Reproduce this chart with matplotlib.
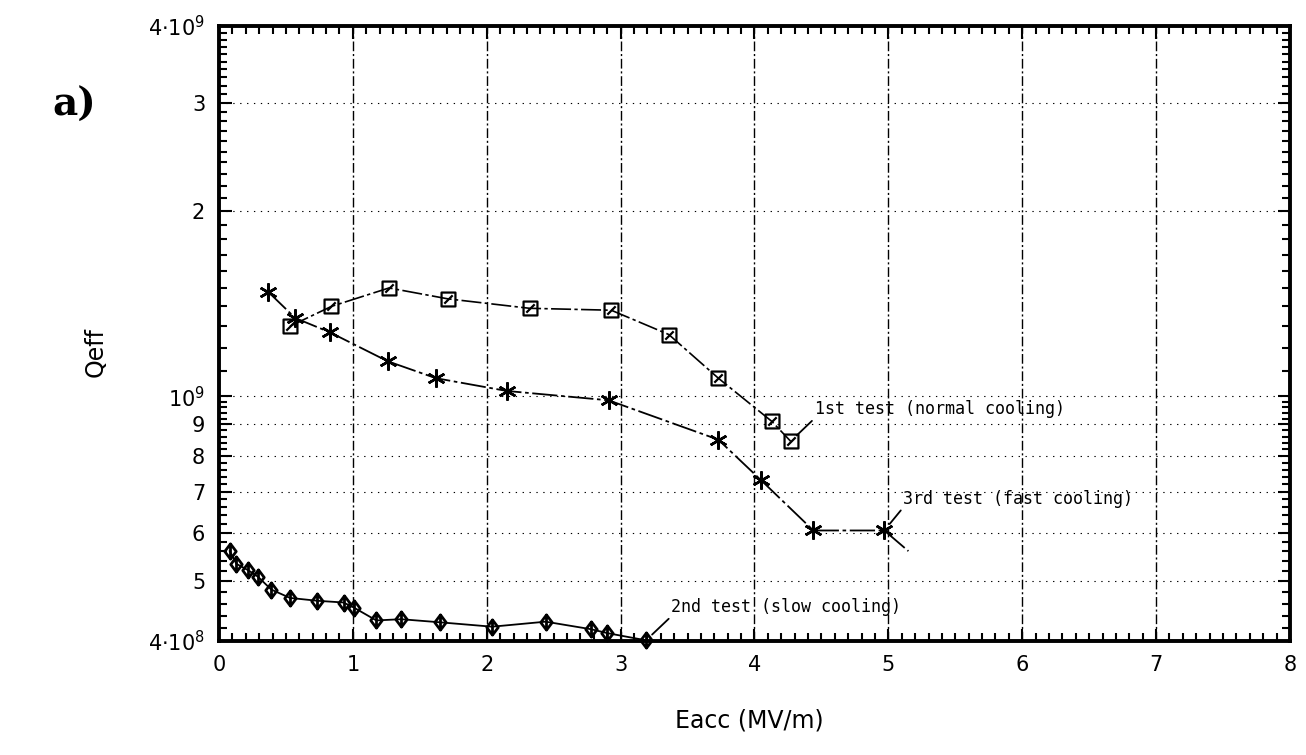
import numpy as np
import matplotlib
matplotlib.use("Agg")
import matplotlib.pyplot as plt
from matplotlib.path import Path
from matplotlib.ticker import FixedLocator, NullFormatter

plt.rcParams["font.family"] = ["DejaVu Sans"]
plt.rcParams["mathtext.fontset"] = "dejavusans"

# 1st test (normal cooling) - squares
e_first = [0.53, 0.84, 1.27, 1.71, 2.32, 2.93, 3.36, 3.73, 4.13, 4.27]
q_first = [1.30e9, 1.40e9, 1.50e9, 1.44e9, 1.39e9, 1.38e9, 1.26e9, 1.07e9, 9.1e8, 8.45e8]

# 2nd test (slow cooling) - diamonds
e_second = [0.08, 0.13, 0.22, 0.29, 0.39, 0.53, 0.735, 0.93, 1.01, 1.175, 1.36,
            1.65, 2.04, 2.44, 2.78, 2.90, 3.19]
q_second = [5.6e8, 5.34e8, 5.21e8, 5.09e8, 4.85e8, 4.70e8, 4.65e8, 4.62e8, 4.53e8,
            4.32e8, 4.34e8, 4.29e8, 4.22e8, 4.30e8, 4.18e8, 4.12e8, 4.01e8]

# 3rd test (fast cooling) - asterisks, last value is the line end without marker
e_third = [0.365, 0.57, 0.83, 1.26, 1.62, 2.15, 2.91, 3.73, 4.05, 4.44, 4.97, 5.15]
q_third = [1.48e9, 1.34e9, 1.27e9, 1.14e9, 1.07e9, 1.02e9, 9.85e8, 8.5e8, 7.3e8,
           6.05e8, 6.05e8, 5.6e8]

ytick_vals = [4e8, 5e8, 6e8, 7e8, 8e8, 9e8, 1e9, 2e9, 3e9, 4e9]
ytick_labels = [r"$4{\cdot}10^8$", "5", "6", "7", "8", "9", r"$10^9$", "2", "3", r"$4{\cdot}10^9$"]
xtick_vals = [0, 1, 2, 3, 4, 5, 6, 7, 8]

# markers
sq_slash = Path([(-1, -1), (1, -1), (1, 1), (-1, 1), (-1, -1), (-0.6, -0.6), (0.6, 0.6)],
                [Path.MOVETO, Path.LINETO, Path.LINETO, Path.LINETO, Path.CLOSEPOLY,
                 Path.MOVETO, Path.LINETO])
dia_bar = Path([(0, -1), (0.75, 0), (0, 1), (-0.75, 0), (0, -1), (0, -1), (0, 1)],
               [Path.MOVETO, Path.LINETO, Path.LINETO, Path.LINETO, Path.CLOSEPOLY,
                Path.MOVETO, Path.LINETO])

fig = plt.figure(figsize=(13.06, 7.55), dpi=100)
ax = fig.add_axes([0.1677, 0.151, 0.8200, 0.8146])
ax.set_yscale("log")
ax.set_xlim(0, 8)
ax.set_ylim(4e8, 4e9)

# grid
for x in xtick_vals[1:-1]:
    ax.axvline(x, color="black", lw=1.0, dashes=(7, 2, 1.5, 2), zorder=1)
for y in ytick_vals[1:-1]:
    ax.axhline(y, color="black", lw=0.8, dashes=(1.2, 5), zorder=1)

ax.plot(e_first, q_first, color="black", lw=1.2, dashes=(12, 2, 2, 2),
        marker=sq_slash, ms=10, mfc="none", mec="black", mew=1.6, zorder=3)
ax.plot(e_second, q_second, color="black", lw=1.3,
        marker=dia_bar, ms=11, mfc="none", mec="black", mew=2.0, zorder=3, clip_on=False)
ax.plot(e_third, q_third, color="black", lw=1.3, dashes=(14, 2, 2, 2),
        marker=(6, 2, 0), ms=13, mec="black", mew=1.8, markevery=list(range(11)), zorder=3)

lead = dict(arrowstyle="-", color="black", lw=1.3, relpos=(0, 0), shrinkA=0, shrinkB=6)
lbl = dict(fontsize=12, family="DejaVu Sans Mono", ha="left", va="bottom", arrowprops=lead)
ax.annotate("1st test (normal cooling)", xy=(e_first[-1], q_first[-1]), xytext=(4.45, 9.21e8), **lbl)
ax.annotate("3rd test (fast cooling)", xy=(e_third[10], q_third[10]), xytext=(5.11, 6.59e8), **lbl)
ax.annotate("2nd test (slow cooling)", xy=(e_second[-1], q_second[-1]), xytext=(3.38, 4.39e8), **lbl)

# ticks
ax.yaxis.set_major_locator(FixedLocator(ytick_vals))
ax.set_yticklabels(ytick_labels)
minor_y = list(np.arange(4.2e8, 1e9, 2e7)) + list(np.arange(1.1e9, 4e9, 1e8))
ax.yaxis.set_minor_locator(FixedLocator(minor_y))
ax.yaxis.set_minor_formatter(NullFormatter())
ax.xaxis.set_major_locator(FixedLocator(xtick_vals))
ax.xaxis.set_minor_locator(FixedLocator(np.arange(0.1, 8, 0.1)))
ax.tick_params(which="both", direction="in", top=True, right=True, width=1.5)
ax.tick_params(which="major", length=9, labelsize=15, pad=10)
ax.tick_params(which="minor", length=6)

for s in ax.spines.values():
    s.set_linewidth(2.8)

fig.text(0.073, 0.534, "Qeff", rotation=90, ha="center", va="center", fontsize=17)
fig.text(0.574, 0.046, "Eacc (MV/m)", ha="center", va="center", fontsize=17)
fig.text(0.057, 0.861, "a)", ha="center", va="center", fontsize=28,
         family="DejaVu Serif", weight="bold")

fig.savefig("out.png", dpi=100)
